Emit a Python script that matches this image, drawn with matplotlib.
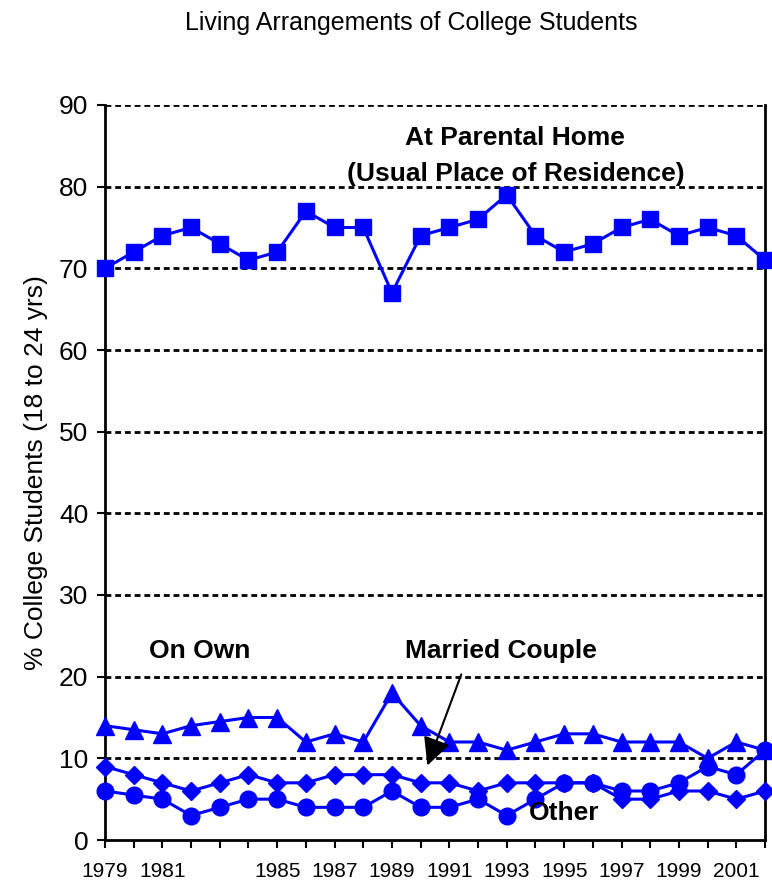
import matplotlib
matplotlib.use("Agg")
import matplotlib.pyplot as plt

plt.rcParams['font.family'] = ['Liberation Sans', 'DejaVu Sans']

years = list(range(1979, 2003))
parental_home = [70, 72, 74, 75, 73, 71, 72, 77, 75, 75, 67, 74, 75, 76, 79, 74, 72, 73, 75, 76, 74, 75, 74, 71]
on_own = [14, 13.5, 13, 14, 14.5, 15, 15, 12, 13, 12, 18, 14, 12, 12, 11, 12, 13, 13, 12, 12, 12, 10, 12, 11]
married_couple = [9, 8, 7, 6, 7, 8, 7, 7, 8, 8, 8, 7, 7, 6, 7, 7, 7, 7, 5, 5, 6, 6, 5, 6]
other = [6, 5.5, 5, 3, 4, 5, 5, 4, 4, 4, 6, 4, 4, 5, 3, 5, 7, 7, 6, 6, 7, 9, 8, 11]
xtick_labels = ['1979', '1981', '1985', '1987', '1989', '1991', '1993', '1995', '1997', '1999', '2001']
yticks = [0, 10, 20, 30, 40, 50, 60, 70, 80, 90]

blue = '#0000FF'

fig = plt.figure(figsize=(7.72, 8.82), dpi=100)
ax = fig.add_axes([105/772, 42/882, 660/772, 735/882])

ax.plot(years, parental_home, color=blue, lw=2.2, marker='s', ms=11.5, clip_on=False, zorder=3)
ax.plot(years, on_own, color=blue, lw=2.2, marker='^', ms=12.5, clip_on=False, zorder=3)
ax.plot(years, married_couple, color=blue, lw=2.2, marker='D', ms=9.5, clip_on=False, zorder=3)
ax.plot(years, other, color=blue, lw=2.2, marker='o', ms=12, clip_on=False, zorder=3)

ax.set_xlim(1979, 2002)
ax.set_ylim(0, 90)
ax.set_yticks(yticks)
ax.set_yticklabels([str(v) for v in yticks], fontsize=19)
ax.set_xticks(years, minor=False)
ax.set_xticklabels([str(y) if str(y) in xtick_labels else '' for y in years], fontsize=15)
ax.tick_params(axis='both', direction='out', length=6, width=1.5, colors='black')
ax.tick_params(axis='x', pad=10)
ax.tick_params(axis='y', pad=6)

for v in yticks[1:]:
    ax.axhline(v, color='black', lw=2, ls=(0, (2.1, 1.4)), zorder=1)

ax.spines['top'].set_visible(False)
for s in ['left', 'bottom', 'right']:
    ax.spines[s].set_linewidth(2)
    ax.spines[s].set_color('black')

ax.set_ylabel('% College Students (18 to 24 yrs)', fontsize=19, labelpad=8)

fig.text(411/772, 1 - 23/882, 'Living Arrangements of College Students', ha='center', va='center', fontsize=18)

ax.text(1993.3, 86.0, 'At Parental Home', ha='center', va='center', fontsize=19, fontweight='bold')
ax.text(1993.3, 81.5, '(Usual Place of Residence)', ha='center', va='center', fontsize=19, fontweight='bold')
ax.text(1982.3, 23.1, 'On Own', ha='center', va='center', fontsize=19, fontweight='bold')
ax.text(1992.8, 23.1, 'Married Couple', ha='center', va='center', fontsize=19, fontweight='bold')
ax.text(1995.0, 3.3, 'Other', ha='center', va='center', fontsize=19, fontweight='bold')

ax.annotate('', xy=(1990.2, 8.8), xytext=(1991.45, 20.6),
            arrowprops=dict(arrowstyle='-|>,head_length=1.7,head_width=0.85', color='black', lw=1.5))

fig.savefig('out.png', dpi=100)
